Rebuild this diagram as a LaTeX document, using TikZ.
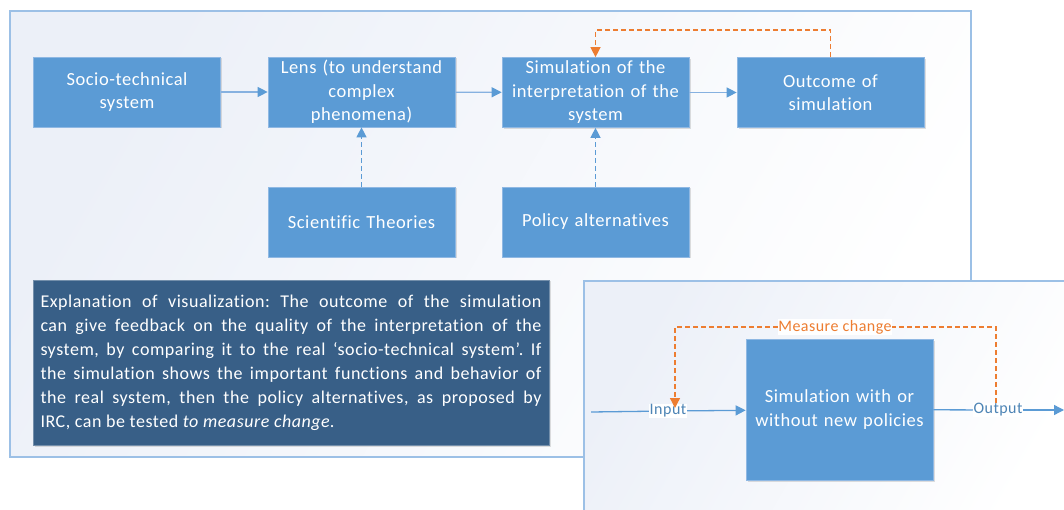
\documentclass[tikz,border=0pt]{standalone}
\usepackage{fontspec}
\setmainfont{Carlito}[LetterSpace=3,Ligatures=NoCommon]
\usetikzlibrary{arrows.meta,shadows}
\definecolor{boxblue}{HTML}{5B9BD5}
\definecolor{boxedge}{HTML}{8FB8E3}
\definecolor{linkblue}{HTML}{86B1E0}
\definecolor{frameblue}{HTML}{9CC0E6}
\definecolor{panelbg}{HTML}{ECF0F8}
\definecolor{notebox}{HTML}{385F87}
\definecolor{accent}{HTML}{ED7D31}
\frenchspacing
\begin{document}
\begin{tikzpicture}[x=1pt,y=-1pt,
  panel/.style={draw=frameblue,line width=1.6pt,left color=panelbg,right color=white,shading angle=60},
  block/.style={fill=boxblue,draw=boxedge,line width=0.7pt,text=white,
    minimum width=187pt,text width=183pt,align=center,inner sep=0pt,
    font=\fontsize{18.5}{23.5}\selectfont,
    drop shadow={opacity=0.25,shadow xshift=1.5pt,shadow yshift=-1.5pt}},
  flow/.style={draw=linkblue,line width=1.3pt,-{Triangle[length=10pt,width=10pt,color=boxblue]}},
  feed/.style={draw=boxblue,line width=1.3pt,dashed,dash pattern=on 5pt off 3pt,-{Triangle[length=10pt,width=10pt,color=boxblue]}},
  loop/.style={draw=accent,line width=1.3pt,dash pattern=on 5pt off 3pt},
  tag/.style={font=\fontsize{16}{18}\selectfont,inner sep=0.6pt,fill=white}
]
\useasboundingbox (0,0) rectangle (1064,510);
\clip (0,0) rectangle (1064,510);

% background panels
\path[panel] (10,11) rectangle (971,457);
\path[panel] (584,281) rectangle (1080,530);

% top chain of the first panel
\node[block,minimum height=70pt] (socio) at (127,92) {Socio-technical\\system};
\node[block,minimum height=70pt] (lens) at (361.5,92) {Lens (to understand\\complex\\phenomena)};
\node[block,minimum height=70pt] (interp) at (595.5,92.5) {Simulation of the\\interpretation of the\\system};
\node[block,minimum height=70pt] (outcome) at (830.5,92.5) {Outcome of\\simulation};
\node[block,minimum height=70pt] (theories) at (361.5,222) {Scientific Theories};
\node[block,minimum height=70pt] (policy) at (595.5,222) {Policy alternatives};

\draw[flow] (socio) -- (lens);
\draw[flow] (lens) -- (interp);
\draw[flow] (interp) -- (outcome);
\draw[feed] (theories) -- (lens);
\draw[feed] (policy) -- (interp);
\draw[loop,-{Triangle[length=10pt,width=10pt,color=accent]}] (outcome.north) -- ++(0,-27) -| (interp.north);

% explanatory note
\node[fill=notebox,draw=notebox!70!white,line width=0.6pt,text=white,
  minimum width=516pt,minimum height=165pt,text width=501pt,align=justify,inner sep=0pt,
  font=\fontsize{18}{24}\selectfont,
  drop shadow={opacity=0.25,shadow xshift=1.5pt,shadow yshift=-1.5pt}] (note) at (291,362.5)
  {Explanation of visualization: The outcome of the simulation\linebreak
   can give feedback on the quality of the interpretation of the\linebreak
   system, by comparing it to the real ‘socio-technical system’. If\linebreak
   the simulation shows the important functions and behavior of\linebreak
   the real system, then the policy alternatives, as proposed by\linebreak
   IRC, can be tested \textit{to measure change}.};

% second panel: input/output loop
\node[block,minimum height=141pt] (simnew) at (839.5,409.5) {Simulation with or\\without new policies};
\coordinate (src) at (591,412);
\coordinate (sink) at (1064,410);
\coordinate (tip) at (675,408);
\node[tag,text=boxblue!85!black] (inlbl) at (668,411) {Input};
\node[tag,text=boxblue!85!black] (outlbl) at (998,410) {Output};
\node[tag,text=accent] (mclbl) at (835,327) {Measure change};

\draw[draw=boxblue,line width=1.3pt] (src) -- (inlbl);
\draw[flow,draw=boxblue] (inlbl) -- (simnew);
\draw[draw=boxblue,line width=1.3pt] (simnew) -- (outlbl);
\draw[flow,draw=boxblue] (outlbl) -- (sink);
\draw[loop] (outlbl.north -| 996,0) |- (mclbl.east);
\draw[loop,-{Triangle[length=10pt,width=10pt,color=accent]}] (mclbl.west) -| (tip);
\end{tikzpicture}
\end{document}
